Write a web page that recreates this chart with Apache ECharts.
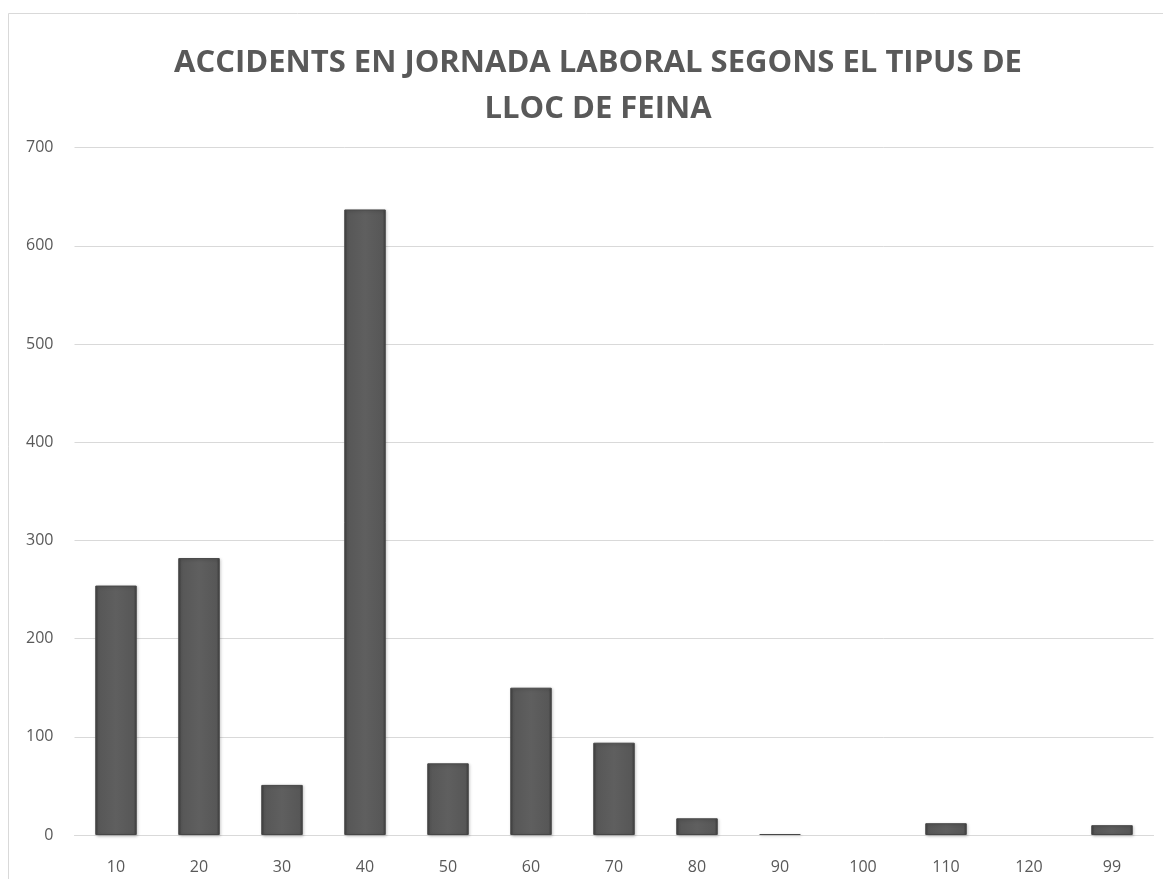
<!DOCTYPE html>
<html><head><meta charset="utf-8">
<script src="https://cdn.jsdelivr.net/npm/echarts@6/dist/echarts.min.js"></script>
<style>html,body{margin:0;padding:0;background:#fff}#c{width:1163px;height:879px}</style>
</head><body><div id="c"></div>
<script>
const titleText = "ACCIDENTS EN JORNADA LABORAL SEGONS EL TIPUS DE\nLLOC DE FEINA";
const categories = ["10","20","30","40","50","60","70","80","90","100","110","120","99"];
const values = [254, 282, 51, 637, 73, 150, 94, 17, 1, null, 12, null, 10];
const yTicks = [0, 100, 200, 300, 400, 500, 600, 700];

const chart = echarts.init(document.getElementById('c'), null, {renderer:'canvas'});
chart.setOption({
  animation:false,
  backgroundColor:'#fff',
  graphic:[{type:'rect', shape:{x:8.5,y:13.5,width:1300,height:1000}, style:{fill:'none', stroke:'#d9d9d9', lineWidth:1}, silent:true}],
  title:{text:titleText, left:593, top:35, textAlign:'center',
    textStyle:{fontFamily:'"Open Sans",sans-serif', fontWeight:'bold', fontSize:31, color:'#595959', lineHeight:46}},
  grid:{left:74.5, right:9.5, top:147.6, bottom:44, containLabel:false},
  xAxis:{type:'category', data:categories,
    axisLine:{lineStyle:{color:'#d9d9d9', width:1}}, axisTick:{show:false},
    axisLabel:{color:'#595959', fontSize:16, fontFamily:'"Open Sans",sans-serif', margin:24}},
  yAxis:{type:'value', min:yTicks[0], max:yTicks[yTicks.length-1], interval:100,
    axisLine:{show:false}, axisTick:{show:false},
    splitLine:{lineStyle:{color:'#d9d9d9', width:1}},
    axisLabel:{color:'#595959', fontSize:16, fontFamily:'"Open Sans",sans-serif', margin:21}},
  series:[{type:'bar', data:values, barWidth:'50%',
    itemStyle:{
      color:new echarts.graphic.LinearGradient(0,0,1,0,[
        {offset:0,color:'#3e3e3e'},{offset:0.08,color:'#575757'},{offset:0.5,color:'#5f5f5f'},{offset:0.92,color:'#575757'},{offset:1,color:'#3e3e3e'}]),
      borderColor:'#474747', borderWidth:1,
      shadowColor:'rgba(0,0,0,0.25)', shadowBlur:3, shadowOffsetX:1, shadowOffsetY:1
    }}]
});
</script></body></html>
